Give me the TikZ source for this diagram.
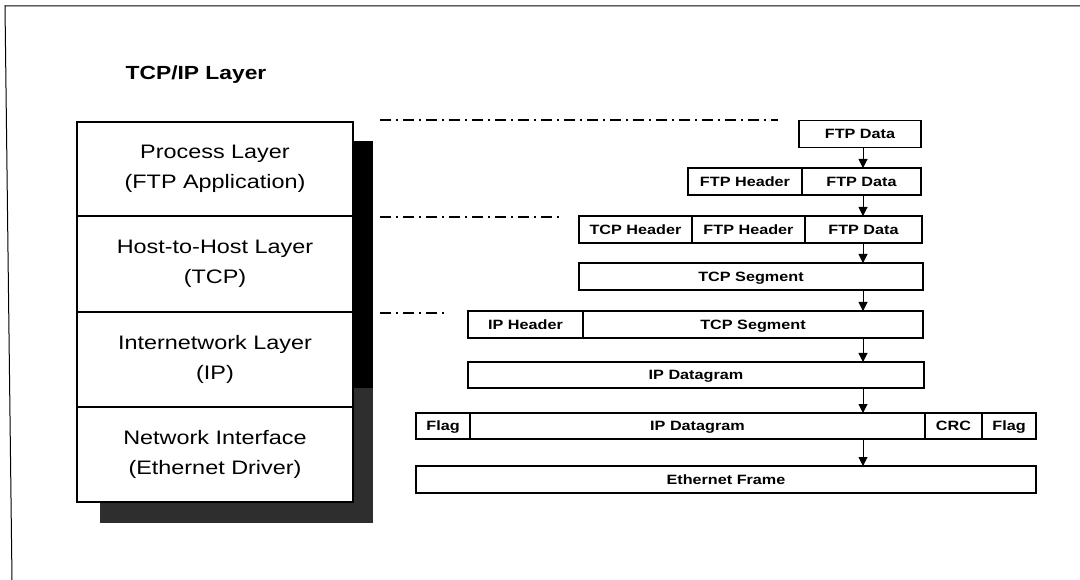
\documentclass[tikz,border=0pt]{standalone}
\usepackage{fontspec}
\setmainfont{Liberation Sans}[FakeStretch=1.2]
\usetikzlibrary{arrows.meta}
\definecolor{shadowgray}{HTML}{2E2E2E}
\begin{document}
\begin{tikzpicture}[x=1pt,y=-1pt,
  layerbox/.style={draw, line width=1.3pt, fill=white, inner sep=0pt, outer sep=0pt,
    minimum width=276pt, align=center, font=\fontsize{19.5}{30}\selectfont},
  cell/.style={draw, line width=1.2pt, fill=white, inner sep=0pt, outer sep=0pt,
    minimum height=27pt, text height=9.8pt, text depth=0pt,
    font=\fontsize{13.5}{15}\selectfont\bfseries},
  arr/.style={line width=1pt, -{Triangle[width=9pt,length=9pt]}},
  sep/.style={line width=1.3pt, dash pattern=on 11pt off 5pt on 2pt off 5pt},
  frame/.style={line width=1pt}
]
\useasboundingbox (0,0) rectangle (1080,580);
% outer frame
\coordinate (f1) at (1080,6);
\coordinate (f2) at (5,6);
\coordinate (f3) at (12,580);
\draw[frame] (f1) -- (f2) -- (f3);
% title
\node[font=\fontsize{19}{22}\selectfont\bfseries] (title) at (196,75) {TCP/IP Layer};
% shadow
\fill[black] (100,141) rectangle (373,388);
\fill[shadowgray] (100,388) rectangle (373,523);
% stack
\node[layerbox, minimum height=94pt] (L1) at (215,169) {Process Layer\\(FTP Application)};
\node[layerbox, minimum height=96pt] (L2) at (215,264) {Host-to-Host Layer\\(TCP)};
\node[layerbox, minimum height=95pt] (L3) at (215,359.5) {Internetwork Layer\\(IP)};
\node[layerbox, minimum height=95pt] (L4) at (215,454.5) {Network Interface\\(Ethernet Driver)};
% separators
\coordinate (s1a) at (380,120); \coordinate (s1b) at (778,120);
\coordinate (s2a) at (380,217); \coordinate (s2b) at (562,217);
\coordinate (s3a) at (380,313); \coordinate (s3b) at (447,313);
\draw[sep] (s1a) -- (s1b);
\draw[sep] (s2a) -- (s2b);
\draw[sep] (s3a) -- (s3b);
% packet rows
\node[cell, minimum width=122pt] (r1d) at (860,134) {FTP Data};
\node[cell, minimum width=114pt] (r2h) at (745,181.5) {FTP Header};
\node[cell, minimum width=119pt] (r2d) at (861.5,181.5) {FTP Data};
\node[cell, minimum width=113pt] (r3t) at (635.5,229.5) {TCP Header};
\node[cell, minimum width=113pt] (r3h) at (748.5,229.5) {FTP Header};
\node[cell, minimum width=117pt] (r3d) at (863.5,229.5) {FTP Data};
\node[cell, minimum width=344pt] (r4s) at (751,276.5) {TCP Segment};
\node[cell, minimum width=115pt] (r5h) at (525.5,324.5) {IP Header};
\node[cell, minimum width=340pt] (r5s) at (753,324.5) {TCP Segment};
\node[cell, minimum width=456pt, minimum height=26pt] (r6d) at (696,375) {IP Datagram};
\node[cell, minimum width=54pt, minimum height=26pt] (r7f) at (443,426) {Flag};
\node[cell, minimum width=455pt, minimum height=26pt] (r7d) at (697.5,426) {IP Datagram};
\node[cell, minimum width=57pt, minimum height=26pt] (r7c) at (953.5,426) {CRC};
\node[cell, minimum width=54pt, minimum height=26pt] (r7g) at (1009,426) {Flag};
\node[cell, minimum width=620pt] (r8e) at (726,479.5) {Ethernet Frame};
% arrows
\coordinate (ax) at (863,0);
\draw[arr] (r1d.south -| ax) -- (r2d.north -| ax);
\draw[arr] (r2d.south -| ax) -- (r3d.north -| ax);
\draw[arr] (r3d.south -| ax) -- (r4s.north -| ax);
\draw[arr] (r4s.south -| ax) -- (r5s.north -| ax);
\draw[arr] (r5s.south -| ax) -- (r6d.north -| ax);
\draw[arr] (r6d.south -| ax) -- (r7d.north -| ax);
\draw[arr] (r7d.south -| ax) -- (r8e.north -| ax);
\end{tikzpicture}
\end{document}
